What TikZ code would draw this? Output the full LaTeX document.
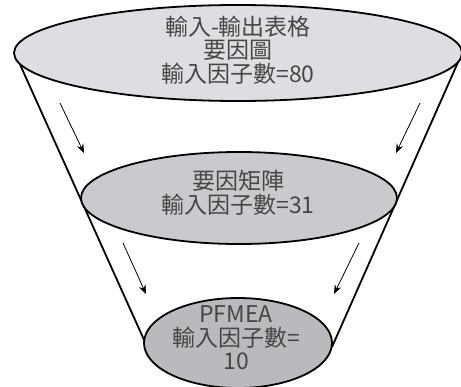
\documentclass[tikz,border=0pt]{standalone}
\usepackage{fontspec}
\setmainfont{Noto Sans CJK TC}
\usetikzlibrary{shapes.geometric,arrows.meta}
\definecolor{fillA}{RGB}{220,222,225}
\definecolor{fillB}{RGB}{200,202,205}
\definecolor{fillC}{RGB}{184,186,189}
\definecolor{txt}{RGB}{70,70,70}
\begin{document}
\begin{tikzpicture}[x=1pt,y=-1pt,
  disc/.style={ellipse,draw=black,line width=1.8pt,inner sep=0pt},
  lbl/.style={align=center,text=txt,font=\fontsize{23}{23.5}\selectfont,inner sep=0pt},
  funnel/.style={line width=1.8pt,draw=black},
  flow/.style={line width=0.8pt,-{Stealth[length=9pt,width=7pt]}}]
\useasboundingbox (0,0) rectangle (461,386);
% funnel walls
\coordinate (lt) at (18,60);
\coordinate (lb) at (145,342);
\coordinate (rt) at (459,60);
\coordinate (rb) at (332,347);
\draw[funnel] (lt) -- (lb);
\draw[funnel] (rt) -- (rb);
% arrows
\coordinate (a1s) at (60,103);  \coordinate (a1e) at (84,153);
\coordinate (a2s) at (420,103); \coordinate (a2e) at (396,153);
\coordinate (a3s) at (123,243); \coordinate (a3e) at (146,294);
\coordinate (a4s) at (359,243); \coordinate (a4e) at (334,294);
\draw[flow] (a1s) -- (a1e);
\draw[flow] (a2s) -- (a2e);
\draw[flow] (a3s) -- (a3e);
\draw[flow] (a4s) -- (a4e);
% discs
\node[disc,fill=fillA,minimum width=448pt,minimum height=96pt] (top) at (238,53) {};
\node[disc,fill=fillB,minimum width=316pt,minimum height=92pt] (mid) at (239,198) {};
\node[disc,fill=fillC,minimum width=188pt,minimum height=90pt] (bot) at (238,343) {};
% labels
\node[lbl] (topt) at (238,50) {輸入-輸出表格\\要因圖\\輸入因子數=80};
\node[lbl] (midt) at (238,193) {要因矩陣\\輸入因子數=31};
\node[lbl] (bott) at (236,338) {PFMEA\\輸入因子數=\\10};
\end{tikzpicture}
\end{document}
